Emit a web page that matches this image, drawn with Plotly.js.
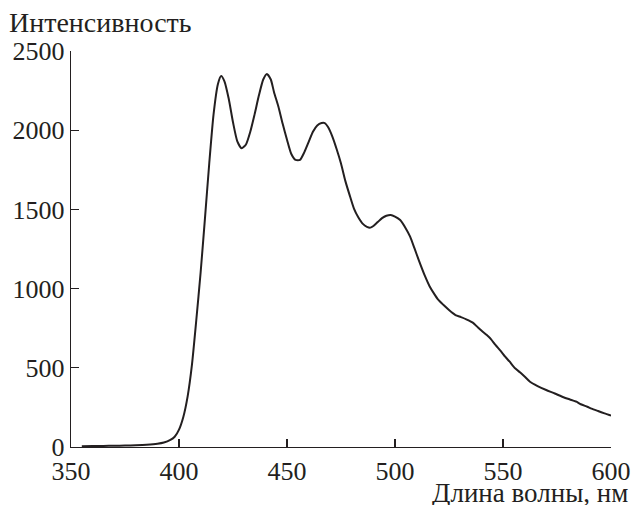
<!DOCTYPE html>
<html>
<head>
<meta charset="utf-8">
<script src="https://cdn.plot.ly/plotly-3.0.1.min.js"></script>
<style>
html,body{margin:0;padding:0;background:#fff;}
#chart{width:631px;height:505px;}
</style>
</head>
<body>
<div id="chart"></div>
<script>
// Wavelength, nm
const wavelength = [355,360,365,370,375,380,385,390,393,396,398,400,402,404,406,408,410,412,414,416,418,419.5,421,423,425,427,429,431,433,435,437,439,440.7,442.5,444,446,448,450,452,454,456,458,460,462,464,466,467.5,469,471,473,475,477,479,481,483,485,487,488.6,490,492,494,496,498,500,502.4,505,507,509,511,514,516,518,520,522.5,525,528,530.5,533,536,538,540,542.5,544.5,546.5,549,551,553,555.6,558,560,562.5,566,570,574,578,581,584,586,589,591,594,597,600];
// Intensity
const intensity = [5,6,7,8,9,11,14,20,28,45,65,110,190,320,520,800,1100,1440,1790,2100,2290,2342,2310,2200,2050,1930,1886,1910,1990,2100,2220,2320,2355,2320,2240,2150,2040,1940,1850,1812,1812,1860,1925,1990,2030,2045,2045,2020,1960,1880,1790,1680,1590,1505,1450,1410,1390,1385,1395,1420,1445,1460,1465,1455,1433,1380,1328,1255,1180,1075,1015,970,930,896,865,833,820,806,785,760,735,707,680,644,605,570,540,497,470,445,412,385,360,338,314,300,286,270,254,242,227,212,198];
const xTicks = [350,400,450,500,550,600];
const yTicks = [0,500,1000,1500,2000,2500];
const yTitle = "Интенсивность";
const xTitle = "Длина волны, нм";

const ink = "#231f20";
const fontFam = "'Liberation Serif', 'Times New Roman', serif";

const trace = {
  x: wavelength, y: intensity, type: "scatter", mode: "lines",
  line: {color: ink, width: 2, shape: "spline", smoothing: 0.6},
  hoverinfo: "skip"
};

const layout = {
  width: 631, height: 505,
  margin: {l: 71, r: 20, t: 51, b: 58},
  paper_bgcolor: "#fff", plot_bgcolor: "#fff",
  showlegend: false,
  font: {family: fontFam, color: ink, size: 26},
  xaxis: {
    range: [350, 600], tickvals: xTicks, ticktext: xTicks.map(String),
    ticks: "inside", ticklen: 8, tickwidth: 1.3, tickcolor: ink,
    showline: true, linecolor: ink, linewidth: 1.3,
    showgrid: false, zeroline: false, mirror: false,
    tickfont: {family: fontFam, size: 26, color: ink},
    fixedrange: true
  },
  yaxis: {
    range: [0, 2500], tickvals: yTicks, ticktext: yTicks.map(String),
    ticks: "inside", ticklen: 8, tickwidth: 1.3, tickcolor: ink,
    showline: true, linecolor: ink, linewidth: 1.3,
    showgrid: false, zeroline: false, mirror: false,
    tickfont: {family: fontFam, size: 26, color: ink},
    fixedrange: true
  },
  annotations: [
    {text: yTitle, xref: "paper", yref: "paper", x: -71/540, y: 1, xanchor: "left", yanchor: "middle", yshift: 29, xshift: 7,
     showarrow: false, font: {family: fontFam, size: 28, color: ink}},
    {text: xTitle, xref: "paper", yref: "paper", x: 1, y: 0, xanchor: "right", yanchor: "middle", xshift: 19, yshift: -46,
     showarrow: false, font: {family: fontFam, size: 27, color: ink}}
  ]
};

Plotly.newPlot("chart", [trace], layout, {displayModeBar: false, staticPlot: true});
</script>
</body>
</html>
